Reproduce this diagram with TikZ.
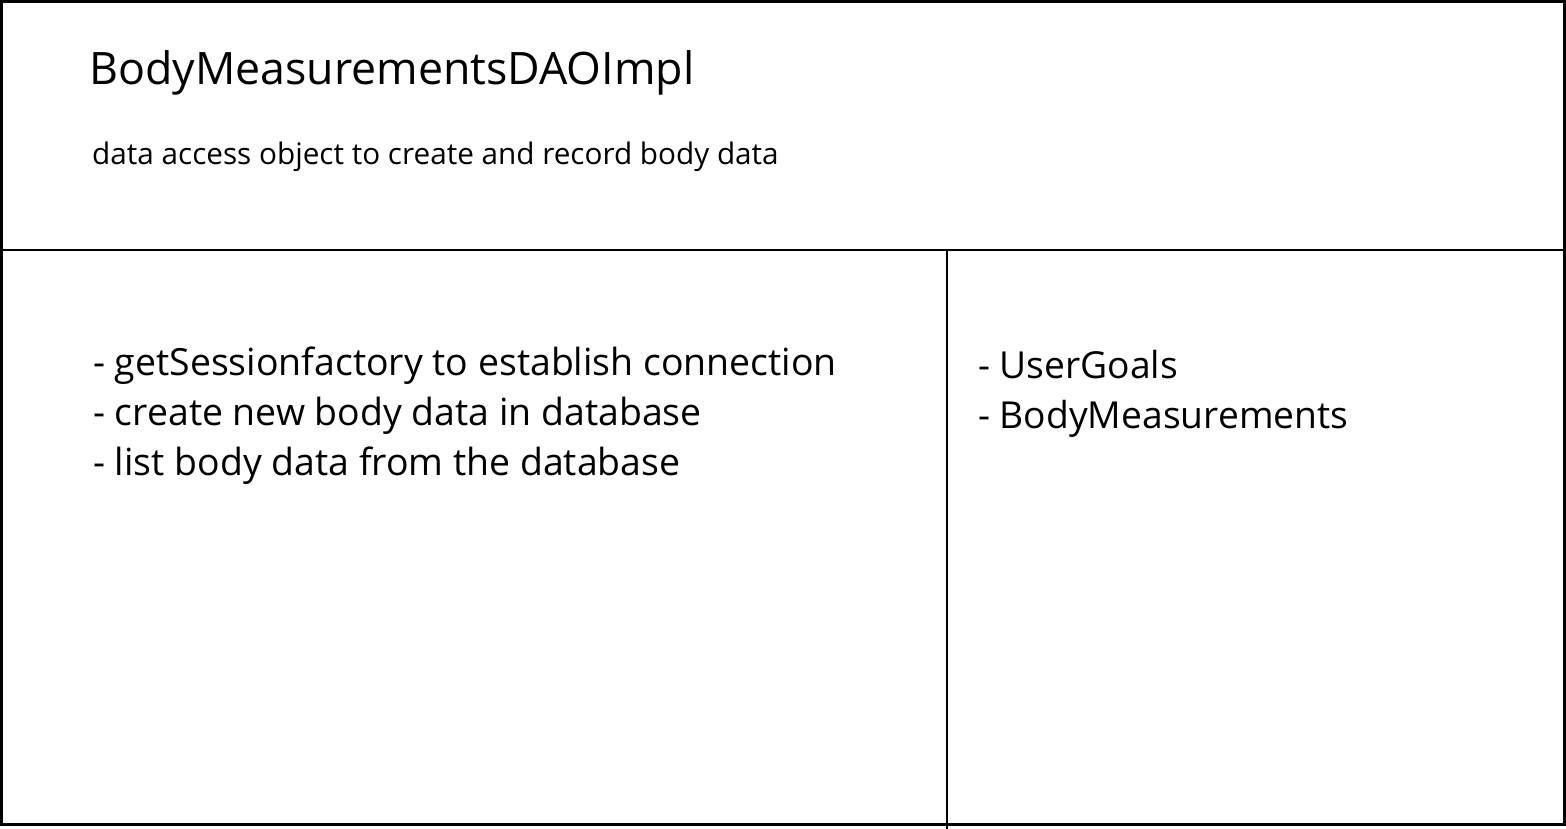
\documentclass[tikz,border=0pt]{standalone}
\usepackage{fontspec}
\setmainfont{Open Sans}
\usetikzlibrary{positioning}

\begin{document}
\begin{tikzpicture}[x=1pt,y=-1pt,
  cardtext/.style={anchor=base west, inner sep=0pt, align=left},
  frame/.style={line width=3pt},
  divider/.style={line width=1.5pt}]
\useasboundingbox (0,0) rectangle (1566,829);
% card outline and dividers
\draw[frame] (1.5,1.5) rectangle (1564,824);
\draw[divider] (0,250) -- (1563,250);
\draw[divider] (947,250) -- (947,829);
% class name and description
\node (title) [cardtext, font=\fontsize{44.7}{50}\selectfont] at (89,85) {BodyMeasurementsDAOImpl};
\node (subtitle) [cardtext, font=\fontsize{29.7}{34}\selectfont] at (92,165) {data access object to create and record body data};
% responsibilities (anchored at the last line)
\node (resp) [cardtext, font=\fontsize{37.4}{50}\selectfont] at (93,475)
  {- getSessionfactory to establish connection\\
   - create new body data in database\\
   - list body data from the database};
% collaborators
\node (collab) [cardtext, font=\fontsize{37.2}{50}\selectfont] at (978,428)
  {- UserGoals\\
   - BodyMeasurements};
\end{tikzpicture}
\end{document}
